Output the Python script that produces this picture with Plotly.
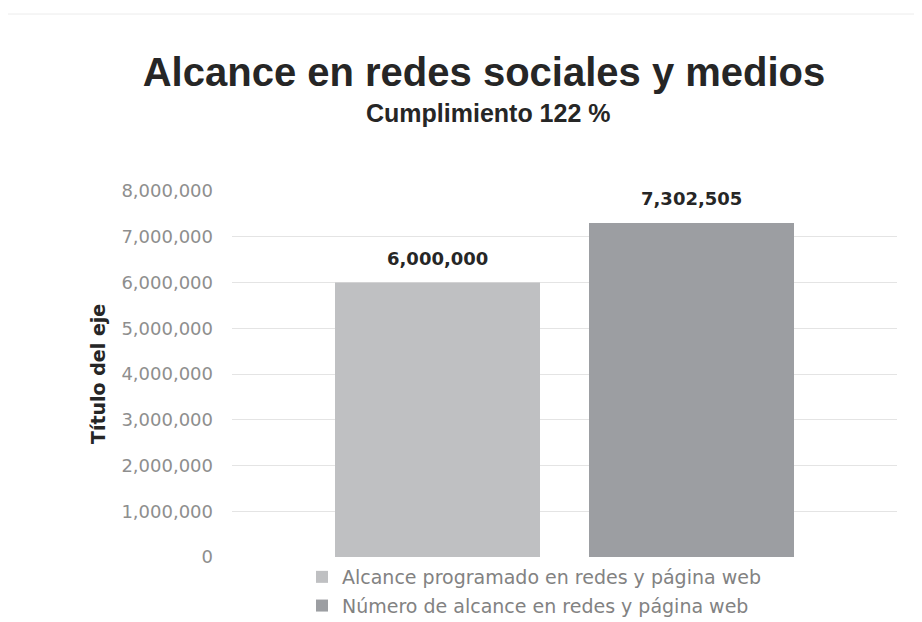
import plotly.graph_objects as go

# ---- data ----
series_names = ["Alcance programado en redes y página web",
                "Número de alcance en redes y página web"]
series_values = [6000000, 7302505]
series_colors = ["#bfc0c2", "#9c9ea2"]
categories = ["prog", "real"]
title_text = "Alcance en redes sociales y medios"
subtitle_text = "Cumplimiento 122 %"
y_title = "Título del eje"
y_ticks = [0, 1000000, 2000000, 3000000, 4000000, 5000000, 6000000, 7000000, 8000000]

W, H = 914, 614
L, R, T, B = 224, 25, 183, 65
PH = H - T - B  # plot height

fig = go.Figure()
for i, (name, val, col) in enumerate(zip(series_names, series_values, series_colors)):
    fig.add_trace(go.Bar(
        x=[categories[i]], y=[val], name=name,
        marker=dict(color=col, line=dict(width=0)),
        legendgroup=f"g{i}", hoverinfo="y",
    ))
    fig.add_annotation(
        x=categories[i], y=val, xref="x", yref="y",
        text=f"{val:,}", showarrow=False, yanchor="bottom", yshift=12,
        font=dict(family="DejaVu Sans", size=18, color="#262626", weight="bold"),
    )

fig.update_layout(
    width=W, height=H,
    paper_bgcolor="white", plot_bgcolor="white",
    margin=dict(l=L, r=R, t=T, b=B, autoexpand=False),
    barmode="overlay", bargap=0.193,
    showlegend=True,
    legend=dict(
        orientation="v", xref="container", yref="container",
        x=294 / W, xanchor="left", y=1 - 550 / H, yanchor="top",
        font=dict(family="DejaVu Sans", size=19, color="#828282"),
        tracegroupgap=1, itemwidth=30,
    ),
    title=dict(
        text=f"<b>{title_text}</b>", x=476 / W, xanchor="center",
        y=1 - 64 / H, yanchor="middle",
        font=dict(family="Liberation Sans", size=40, color="#262626"),
    ),
)
fig.add_annotation(
    x=(480 - L) / 665, y=(T + PH - 105) / PH, xref="paper", yref="paper",
    text=f"<b>{subtitle_text}</b>", showarrow=False, xanchor="center", yanchor="middle",
    font=dict(family="Liberation Sans", size=25, color="#262626"),
)
fig.add_annotation(
    x=(90 - L) / 665, y=0.5, xref="paper", yref="paper",
    text=f"<b>{y_title}</b>", showarrow=False, textangle=-90,
    xanchor="center", yanchor="middle",
    font=dict(family="DejaVu Sans", size=19, color="#262626"),
)

fig.update_xaxes(
    type="category", categoryorder="array", categoryarray=categories,
    range=[-0.809, 1.809], showticklabels=False, showgrid=False,
    showline=False, zeroline=False, ticks="",
)
fig.update_yaxes(
    range=[0, 8000000], tickvals=y_ticks, tickformat=",d",
    showgrid=True, gridcolor="#e4e4e4", gridwidth=1,
    zeroline=False, showline=False, ticks="",
    tickfont=dict(family="DejaVu Sans", size=18, color="#8e8e8e"),
    ticklabelstandoff=18,
)

# faint chart-area border (top edge)
fig.add_shape(type="line", xref="paper", yref="paper",
              x0=-L / 665, x1=(W - 2 - L) / 665,
              y0=(T + PH - 6) / PH, y1=(T + PH - 6) / PH,
              line=dict(color="#ececec", width=1), layer="below")

fig.write_html("out.html")
